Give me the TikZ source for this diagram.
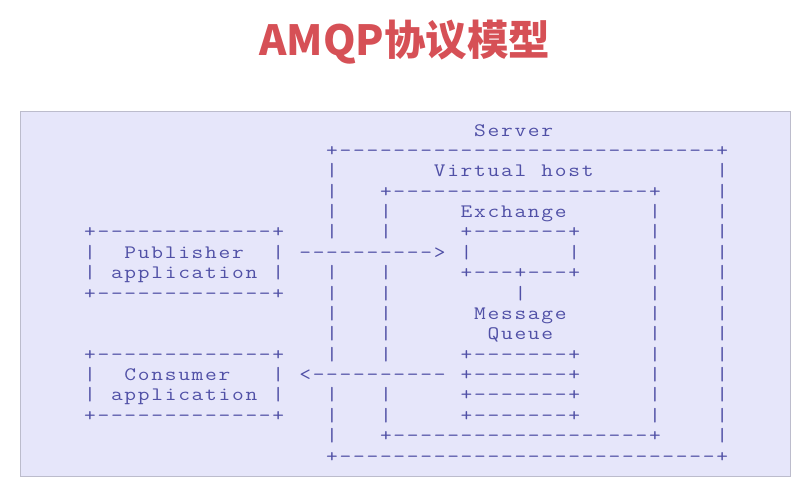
\documentclass[tikz,border=0pt]{standalone}
\usepackage{graphicx}
\usepackage{fontspec}
\newfontfamily\cjk{Noto Sans CJK SC}
\definecolor{titlered}{RGB}{214,80,86}
\definecolor{asciiblue}{RGB}{80,80,166}
\definecolor{panelfill}{RGB}{230,230,250}
\definecolor{panelline}{RGB}{188,188,204}
\newdimen\apitch
\apitch=13.45pt
\ExplSyntaxOn
\NewDocumentCommand\onechar{m}{\makebox[\apitch][c]{\scalebox{1.2}[1]{#1}}}
\NewDocumentCommand\spread{m}{\str_map_inline:nn{#1}{\onechar{##1}}}
\NewDocumentCommand\dashes{m}{\prg_replicate:nn{#1}{\onechar{-}}}
\NewDocumentCommand\plusline{m}{\onechar{+}\dashes{#1}\onechar{+}}
\ExplSyntaxOff
\tikzset{asc/.style={anchor=base west, inner sep=0pt, outer sep=0pt, text=asciiblue,
  font=\ttfamily\fontsize{19}{19}\selectfont}}
\newcommand\segr[3]{\node[asc] (n#1x#2) at ({83.275+#2*13.45},{136.05+#1*20.375}) {#3};}
\newcommand\seg[3]{\segr{#1}{#2}{\spread{#3}}}
\begin{document}
\begin{tikzpicture}[x=1pt,y=-1pt]
\useasboundingbox (0,0) rectangle (807,493);
\node[draw=panelline, line width=1.4pt, fill=panelfill, inner sep=0pt, anchor=north west,
  minimum width=770pt, minimum height=365pt] (panel) at (19.5,110.5) {};
\node[anchor=base, inner sep=0pt, text=titlered, font=\cjk\bfseries\fontsize{41.5}{41.5}\selectfont] (title) at (405,55) {AMQP协议模型};
% row 0
\seg{0}{29}{Server}
% row 1
\segr{1}{18}{\plusline{28}}
% row 2
\seg{2}{18}{|}\seg{2}{26}{Virtual}\seg{2}{34}{host}\seg{2}{47}{|}
% row 3
\seg{3}{18}{|}\segr{3}{22}{\plusline{19}}\seg{3}{47}{|}
% row 4
\seg{4}{18}{|}\seg{4}{22}{|}\seg{4}{28}{Exchange}\seg{4}{42}{|}\seg{4}{47}{|}
% row 5
\segr{5}{0}{\plusline{13}}\seg{5}{18}{|}\seg{5}{22}{|}\segr{5}{28}{\plusline{7}}\seg{5}{42}{|}\seg{5}{47}{|}
% row 6
\seg{6}{0}{|}\seg{6}{3}{Publisher}\seg{6}{14}{|}\segr{6}{16}{\dashes{10}\spread{>}}\seg{6}{28}{|}\seg{6}{36}{|}\seg{6}{42}{|}\seg{6}{47}{|}
% row 7
\seg{7}{0}{|}\seg{7}{2}{application}\seg{7}{14}{|}\seg{7}{18}{|}\seg{7}{22}{|}\seg{7}{28}{+---+---+}\seg{7}{42}{|}\seg{7}{47}{|}
% row 8
\segr{8}{0}{\plusline{13}}\seg{8}{18}{|}\seg{8}{22}{|}\seg{8}{32}{|}\seg{8}{42}{|}\seg{8}{47}{|}
% row 9
\seg{9}{18}{|}\seg{9}{22}{|}\seg{9}{29}{Message}\seg{9}{42}{|}\seg{9}{47}{|}
% row 10
\seg{10}{18}{|}\seg{10}{22}{|}\seg{10}{30}{Queue}\seg{10}{42}{|}\seg{10}{47}{|}
% row 11
\segr{11}{0}{\plusline{13}}\seg{11}{18}{|}\seg{11}{22}{|}\segr{11}{28}{\plusline{7}}\seg{11}{42}{|}\seg{11}{47}{|}
% row 12
\seg{12}{0}{|}\seg{12}{3}{Consumer}\seg{12}{14}{|}\segr{12}{16}{\spread{<}\dashes{10}}\segr{12}{28}{\plusline{7}}\seg{12}{42}{|}\seg{12}{47}{|}
% row 13
\seg{13}{0}{|}\seg{13}{2}{application}\seg{13}{14}{|}\seg{13}{18}{|}\seg{13}{22}{|}\segr{13}{28}{\plusline{7}}\seg{13}{42}{|}\seg{13}{47}{|}
% row 14
\segr{14}{0}{\plusline{13}}\seg{14}{18}{|}\seg{14}{22}{|}\segr{14}{28}{\plusline{7}}\seg{14}{42}{|}\seg{14}{47}{|}
% row 15
\seg{15}{18}{|}\segr{15}{22}{\plusline{19}}\seg{15}{47}{|}
% row 16
\segr{16}{18}{\plusline{28}}
\end{tikzpicture}
\end{document}
